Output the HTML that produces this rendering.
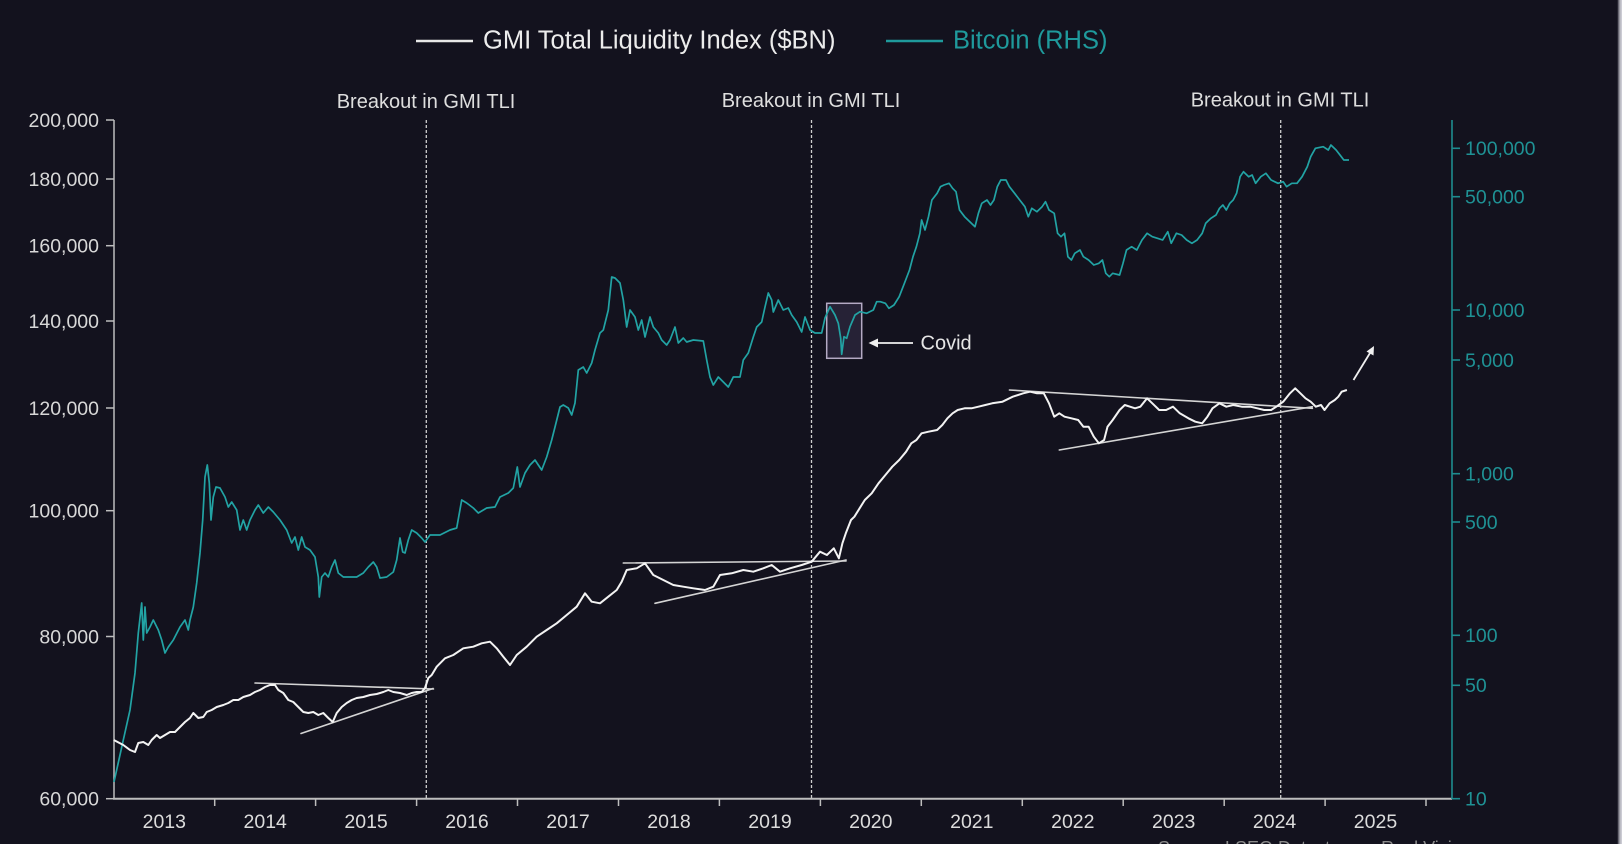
<!DOCTYPE html>
<html><head><meta charset="utf-8"><style>
html,body{margin:0;padding:0;background:#13121e;}
svg{display:block;}
text{font-family:"Liberation Sans",Arial,sans-serif;}
</style></head><body>
<svg width="1622" height="844" viewBox="0 0 1622 844" xmlns="http://www.w3.org/2000/svg">
<defs>
<linearGradient id="edge" x1="0" y1="0" x2="1" y2="0">
<stop offset="0" stop-color="#2c2b36"/>
<stop offset="0.35" stop-color="#8a8a94"/>
<stop offset="0.7" stop-color="#c4c4cc"/>
<stop offset="1" stop-color="#d0d0d8"/>
</linearGradient>
</defs>
<rect x="0" y="0" width="1622" height="844" fill="#13121e"/>
<rect x="1617.5" y="0" width="4.5" height="844" fill="url(#edge)"/>

<!-- Legend -->
<line x1="416" y1="41" x2="473" y2="41" stroke="#e8e8e8" stroke-width="2.5"/>
<text x="483" y="48.5" font-size="25.5" fill="#ececec">GMI Total Liquidity Index ($BN)</text>
<line x1="886" y1="41" x2="943" y2="41" stroke="#1f9a9c" stroke-width="2.5"/>
<text x="953" y="48.5" font-size="25.5" fill="#1f9a9c">Bitcoin (RHS)</text>

<!-- Breakout labels -->
<g font-size="20" fill="#dedede" text-anchor="middle">
<text x="426" y="108">Breakout in GMI TLI</text>
<text x="811" y="107">Breakout in GMI TLI</text>
<text x="1280" y="106.5">Breakout in GMI TLI</text>
</g>

<!-- Dashed vertical lines -->
<g stroke="#cfcfcf" stroke-width="1.3" stroke-dasharray="3 2">
<line x1="426.3" y1="120" x2="426.3" y2="798"/>
<line x1="811.5" y1="120" x2="811.5" y2="798"/>
<line x1="1280.7" y1="120" x2="1280.7" y2="798"/>
</g>

<!-- Left axis -->
<g stroke="#bdbdbd" stroke-width="1.5">
<line x1="114" y1="120" x2="114" y2="799"/>
<line x1="106" y1="120" x2="114" y2="120"/>
<line x1="106" y1="179" x2="114" y2="179"/>
<line x1="106" y1="245.7" x2="114" y2="245.7"/>
<line x1="106" y1="321" x2="114" y2="321"/>
<line x1="106" y1="408" x2="114" y2="408"/>
<line x1="106" y1="510.7" x2="114" y2="510.7"/>
<line x1="106" y1="636.5" x2="114" y2="636.5"/>
<line x1="106" y1="798.7" x2="114" y2="798.7"/>
</g>
<g font-size="19.5" fill="#d8d8d8" text-anchor="end">
<text x="99" y="127">200,000</text>
<text x="99" y="186">180,000</text>
<text x="99" y="252.5">160,000</text>
<text x="99" y="328">140,000</text>
<text x="99" y="415">120,000</text>
<text x="99" y="517.5">100,000</text>
<text x="99" y="643.5">80,000</text>
<text x="99" y="805.5">60,000</text>
</g>

<!-- X axis -->
<line x1="113" y1="798.7" x2="1452" y2="798.7" stroke="#bdbdbd" stroke-width="2"/>
<g stroke="#bdbdbd" stroke-width="1.5">
<line x1="214.7" y1="798" x2="214.7" y2="806"/>
<line x1="315.6" y1="798" x2="315.6" y2="806"/>
<line x1="416.6" y1="798" x2="416.6" y2="806"/>
<line x1="517.5" y1="798" x2="517.5" y2="806"/>
<line x1="618.5" y1="798" x2="618.5" y2="806"/>
<line x1="719.4" y1="798" x2="719.4" y2="806"/>
<line x1="820.4" y1="798" x2="820.4" y2="806"/>
<line x1="921.3" y1="798" x2="921.3" y2="806"/>
<line x1="1022.3" y1="798" x2="1022.3" y2="806"/>
<line x1="1123.2" y1="798" x2="1123.2" y2="806"/>
<line x1="1224.2" y1="798" x2="1224.2" y2="806"/>
<line x1="1325.1" y1="798" x2="1325.1" y2="806"/>
<line x1="1426" y1="798" x2="1426" y2="806"/>
</g>
<g font-size="19.5" fill="#dcdcdc" text-anchor="middle">
<text x="164.3" y="828">2013</text>
<text x="265.2" y="828">2014</text>
<text x="366.1" y="828">2015</text>
<text x="467" y="828">2016</text>
<text x="568" y="828">2017</text>
<text x="669" y="828">2018</text>
<text x="770" y="828">2019</text>
<text x="870.8" y="828">2020</text>
<text x="971.8" y="828">2021</text>
<text x="1072.8" y="828">2022</text>
<text x="1173.7" y="828">2023</text>
<text x="1274.6" y="828">2024</text>
<text x="1375.5" y="828">2025</text>
</g>

<!-- Right axis -->
<g stroke="#1e8c8f" stroke-width="1.6">
<line x1="1452" y1="120" x2="1452" y2="799"/>
<line x1="1452" y1="148.3" x2="1460" y2="148.3"/>
<line x1="1452" y1="196.7" x2="1460" y2="196.7"/>
<line x1="1452" y1="310" x2="1460" y2="310"/>
<line x1="1452" y1="360" x2="1460" y2="360"/>
<line x1="1452" y1="473.7" x2="1460" y2="473.7"/>
<line x1="1452" y1="522" x2="1460" y2="522"/>
<line x1="1452" y1="635.3" x2="1460" y2="635.3"/>
<line x1="1452" y1="685.3" x2="1460" y2="685.3"/>
<line x1="1452" y1="798.7" x2="1460" y2="798.7"/>
</g>
<g font-size="19.5" fill="#1f9295">
<text x="1465" y="155">100,000</text>
<text x="1465" y="203.5">50,000</text>
<text x="1465" y="317">10,000</text>
<text x="1465" y="367">5,000</text>
<text x="1465" y="480.5">1,000</text>
<text x="1465" y="529">500</text>
<text x="1465" y="642">100</text>
<text x="1465" y="692">50</text>
<text x="1465" y="805.5">10</text>
</g>

<!-- Covid box -->
<rect x="826.7" y="303.3" width="35" height="55" fill="#6e5a8c" fill-opacity="0.22" stroke="#b4aac4" stroke-width="1.5"/>

<!-- Bitcoin series -->
<polyline fill="none" stroke="#22a3a4" stroke-width="1.7" stroke-linejoin="round" points="114,782 123.3,740 130,710 135,673 138.3,633 141.7,603 143.3,640 145,607 146.7,633 150,627 153.3,620 158.3,630 161.7,640 165,653 168.3,647 173.3,640 180,627 185,620 188.3,630 190,620 193.3,607 196.7,583 200,553 202.7,520 205,477 207.3,465 209.3,483 211,520 213.3,497 216,487 220,488 225,497 228.3,507 231.7,502 236.7,510 240,530 243.3,520 246.7,530 250,520 255,510 258.3,505 263.3,513 268.3,507 273.3,512 280,520 286.7,530 291.7,543 295,537 298.3,550 301.7,537 305,547 310,550 315,557 318.3,577 319.3,597 321.7,577 325,573 328.3,577 331.7,567 335,560 338.3,573 343.3,577 350,577 356.7,577 363.3,573 368.3,567 373.3,562 376.7,567 380,578 386.7,577 393.3,572 396.7,560 400,538 402.7,552 405,553 408.3,540 411.7,530 416.7,533 421.7,538 425,542 430,535 440,535 450,530 456.7,528 461.7,500 466.7,503 473.3,508 478.3,513 486.7,508 495,507 500,497 508.3,493 513.3,488 517.3,467 520,487 525,473 530,465 535,460 538.3,465 541.7,470 546.7,457 551.7,440 555,427 560,407 563.3,405 568.3,408 571.7,415 575,403 578.3,370 583.3,367 586.7,373 591.7,363 595,350 600,333 603.3,330 608.3,310 611.7,277 615,278 620,283 623.3,300 626.7,327 630,310 635,317 638.3,330 641.7,320 645,337 650,317 653.3,327 658.3,333 661.7,340 666.7,345 670,340 675,327 678.3,343 683.3,338 686.7,342 693.3,340 703.3,341 706.7,360 710,377 713.3,385 718.3,377 723.3,382 728.3,387 733.3,377 740,377 743.3,360 748.3,353 753.3,337 756.7,327 761.7,322 765,307 768.3,293 771.7,300 773.3,312 778.3,300 783.3,310 788.3,308 791.7,315 796.7,322 801.7,332 805,317 810,330 815,333 821.7,333 825,318 830,306.7 835,315 838.3,323.3 840.7,338.3 841.7,354.3 844,336.7 846.7,338.3 850,326.7 855,315 860,311.7 866.7,313.3 873.3,310 876.7,301.7 880.3,301.7 885.4,303.3 888.9,308.3 894,305 899.2,296.7 904.4,283.3 909.5,270 913,256.7 916.4,246.7 919.9,233.3 921.6,220 925,230 928.5,216.7 931.9,200 937.1,193.3 940.5,186.7 944,185 949.1,183.3 952.6,188.3 956,191.7 959.5,210 964.6,216.7 969.8,221.7 975,226.7 978.4,213.3 981.8,203.3 987,200 990.5,205 993.9,200 997.3,186.7 1000.8,180 1006,180 1009.4,186.7 1014.6,193.3 1019.7,200 1024.9,206.7 1028.3,216.7 1031.8,208.3 1036.9,211.7 1042.1,206.7 1045.5,201.7 1049,210 1054.2,213.3 1057.6,233.3 1061,236.7 1064.5,233.3 1067.9,256.7 1071.4,260 1074.8,253.3 1080,250 1083.4,256.7 1088.6,260 1093.8,265 1098.9,263.3 1102.4,260 1105.8,273.3 1109.3,276.7 1112.7,273.3 1119.6,275 1123,263.3 1126.5,250 1131.6,246.7 1136.8,250 1142,240 1147.1,233.3 1152.3,236.7 1157.5,238.3 1162.6,240 1167.8,231.7 1171.2,243.3 1176.4,233.3 1181.6,235 1186.7,240 1191.9,243.3 1197.1,240 1202.2,233.3 1205.7,223.3 1210.9,218.3 1216,215 1219.5,208.3 1222.9,205 1226.3,210 1229.8,203.3 1233.2,200 1236.6,193.3 1240.1,176.7 1243.5,171.7 1248.7,176.7 1252.1,175 1255.6,183.3 1260.8,176.7 1265.9,173.3 1271.1,180 1278,183.3 1283.2,181.7 1286.6,186.7 1291.8,183.3 1297,183.3 1302.1,176.7 1307.3,166.7 1310.7,156.7 1315.4,148.3 1323.2,146.7 1328.3,150 1330.9,145 1336.1,150 1341.3,156.7 1343.8,160 1349,160"/>

<!-- Trend lines -->
<g stroke="#d4d4d4" stroke-width="1.6" stroke-linecap="round">
<line x1="255" y1="683" x2="433.5" y2="689"/>
<line x1="301" y1="733.5" x2="433" y2="688.5"/>
<line x1="623.3" y1="563" x2="846" y2="561"/>
<line x1="655" y1="603.3" x2="846" y2="560"/>
<line x1="1009.4" y1="390" x2="1312.4" y2="408.3"/>
<line x1="1059.3" y1="450" x2="1312.4" y2="406.7"/>
</g>

<!-- GMI series -->
<polyline fill="none" stroke="#f3f3f3" stroke-width="2" stroke-linejoin="round" points="113.8,740 123.3,745 130,750 135,752 138.3,743 143.3,742 148.3,745 151.7,740 156.7,735 160,738 165,735 170,732 175,732 180,727 185,722 190,718 193.3,713 198.3,718 203.3,717 206.7,712 211.7,710 216.7,707 223.3,705 228.3,703 233.3,700 238.3,700 243.3,697 250,695 255,692 260,690 265,687 270,685 275,685 278.3,690 283.3,693 288.3,700 293.3,702 298.3,707 303.3,712 308.3,713 313.3,712 318.3,715 323.3,713 328.3,718 332.7,722 336.7,713 341.7,707 346.7,703 351.7,700 356.7,698 363.3,697 370,695 376.7,694 383.3,692 388.3,690 393.3,692 400,693 406.7,695 411.7,693 416.7,692 421.7,692 425,688 428.3,678 431.7,675 436.7,666.7 445,658.3 453.3,655 463.3,648.3 473.3,646.7 481.7,643.3 490,641.7 496.7,648.3 503.3,656.7 510,665 516.7,655 526.7,646.7 536.7,636.7 546.7,630 556.7,623.3 566.7,615 576.7,606.7 585,593.3 591.7,601.7 600,603.3 608.3,596.7 616.7,590 621.7,581.7 626.7,570 636.7,568.3 645,563.3 653.3,575 663.3,580 673.3,585 683.3,586.7 693.3,588.3 705,590 713.3,586.7 720,575 731.7,573.3 743.3,570 753.3,571.7 763.3,568.3 771.7,565 780,571.7 790,568.3 801.7,565 811.7,561.7 820,551.7 826.9,555 833.8,548.3 838.9,558.3 842.4,543.3 845.8,533.3 851,520 854.4,516.7 859.6,508.3 864.8,500 871.7,493.3 878.5,483.3 885.4,475 892.3,466.7 899.2,460 906.1,451.7 911.3,443.3 916.4,440 921.6,433.3 928.5,431.7 937.1,430 942.3,425 947.4,418.3 952.6,413.3 957.7,410 964.6,408.3 971.5,408.3 978.4,406.7 985.3,405 992.2,403.3 1002.5,401.7 1012.8,396.7 1023.2,393.3 1030.1,391.7 1037,393.3 1043.8,393.3 1049,403.3 1054.2,416.7 1059.3,413.3 1064.5,416.7 1071.4,418.3 1078.2,420 1083.4,426.7 1088.6,426.7 1093.8,436.7 1098.9,443.3 1104.1,440 1107.5,426.7 1112.7,420 1119.6,410 1124.8,405 1130,406.7 1135.1,408.3 1140.3,406.7 1147.1,398.3 1152.3,403.3 1159.2,410 1166.1,410 1173,406.7 1179.8,413.3 1188.4,418.3 1195.3,421.7 1202.2,423.3 1207.4,416.7 1212.5,408.3 1219.5,403.3 1226.3,406.7 1233.2,405 1241.8,406.7 1250.4,406.7 1257.3,408.3 1264.2,410 1271.1,410 1276.3,406.7 1283.2,401.7 1290,393.3 1295.2,388.3 1300.4,393.3 1305.5,398.3 1310.7,401.7 1315.8,406.7 1321,405 1324.5,410 1329.6,403.3 1334.8,400 1338.3,396.7 1341.7,391.7 1346.9,390"/>

<!-- Covid annotation -->
<line x1="913" y1="343" x2="876" y2="343" stroke="#f0f0f0" stroke-width="1.8"/>
<polygon points="868.5,343 878,338.5 878,347.5" fill="#f0f0f0"/>
<text x="920.5" y="349.5" font-size="20" fill="#e6e6e6">Covid</text>

<!-- Up arrow -->
<line x1="1353.5" y1="380" x2="1370" y2="353" stroke="#f0f0f0" stroke-width="1.8"/>
<polygon points="1374,346 1366.5,351.5 1373.5,355.5" fill="#f0f0f0"/>

<!-- Cut-off source text -->
<text x="1158" y="854" font-size="18" fill="#8a8a8a">Source: LSEG Datastream, Real Vision</text>
</svg>
</body></html>
